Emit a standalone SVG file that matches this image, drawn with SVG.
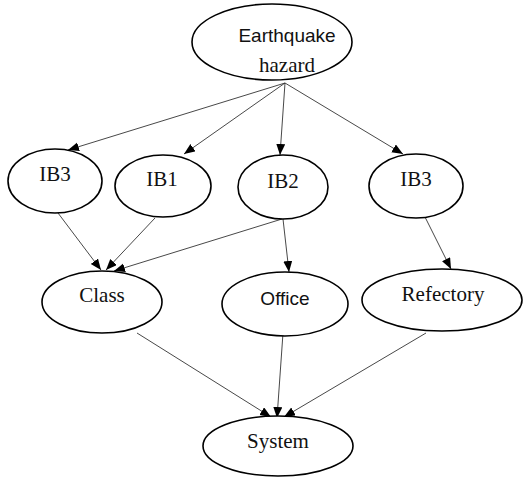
<svg xmlns="http://www.w3.org/2000/svg" width="529" height="477" viewBox="0 0 529 477">
<style>
.n{fill:#fff;stroke:#000;stroke-width:1.6}
.s{font-family:"Liberation Serif","Times New Roman",serif;font-size:21px;fill:#111;text-anchor:middle}
.a{font-family:"Liberation Sans",Arial,sans-serif;font-size:19px;fill:#111;text-anchor:middle}
.e{stroke:#333;stroke-width:0.9;fill:none;marker-end:url(#ah)}
</style>
<defs>
<marker id="ah" markerUnits="userSpaceOnUse" markerWidth="12" markerHeight="10" refX="11" refY="4.5" orient="auto">
<path d="M0,0 L11,4.5 L0,9 Z" fill="#000"/>
</marker>
</defs>
<g id="edges">
<line class="e" x1="285" y1="83" x2="68" y2="150"/>
<line class="e" x1="285" y1="83" x2="184" y2="154"/>
<line class="e" x1="285" y1="83" x2="280" y2="155"/>
<line class="e" x1="285" y1="83" x2="403" y2="154"/>
<line class="e" x1="58" y1="213" x2="101" y2="270"/>
<line class="e" x1="155" y1="218" x2="106" y2="270"/>
<line class="e" x1="282" y1="219" x2="114" y2="271"/>
<line class="e" x1="283" y1="219" x2="289" y2="272"/>
<line class="e" x1="425" y1="217" x2="451" y2="269"/>
<line class="e" x1="137" y1="333" x2="271" y2="417"/>
<line class="e" x1="283" y1="333" x2="277" y2="418"/>
<line class="e" x1="426" y1="333" x2="284" y2="417"/>
</g>
<g id="earthquake">
<ellipse class="n" cx="272" cy="42" rx="80" ry="38"/>
<text class="a" x="287" y="42">Earthquake</text>
<text class="s" x="287" y="72">hazard</text>
</g>
<g id="ib3a">
<ellipse class="n" cx="55" cy="181" rx="47" ry="32"/>
<text class="s" x="55" y="181">IB3</text>
</g>
<g id="ib1">
<ellipse class="n" cx="163" cy="186" rx="48" ry="31"/>
<text class="s" x="162" y="186">IB1</text>
</g>
<g id="ib2">
<ellipse class="n" cx="283" cy="187" rx="45" ry="32"/>
<text class="s" x="283" y="188">IB2</text>
</g>
<g id="ib3b">
<ellipse class="n" cx="416" cy="186" rx="47" ry="32"/>
<text class="s" x="416" y="186">IB3</text>
</g>
<g id="class">
<ellipse class="n" cx="102" cy="302" rx="60" ry="31"/>
<text class="s" x="102" y="302">Class</text>
</g>
<g id="office">
<ellipse class="n" cx="285" cy="304" rx="63" ry="32"/>
<text class="a" x="285" y="305">Office</text>
</g>
<g id="refectory">
<ellipse class="n" cx="442" cy="300" rx="80" ry="31"/>
<text class="s" x="443" y="301">Refectory</text>
</g>
<g id="system">
<ellipse class="n" cx="278" cy="446" rx="75" ry="30"/>
<text class="s" x="278" y="448">System</text>
</g>
</svg>
